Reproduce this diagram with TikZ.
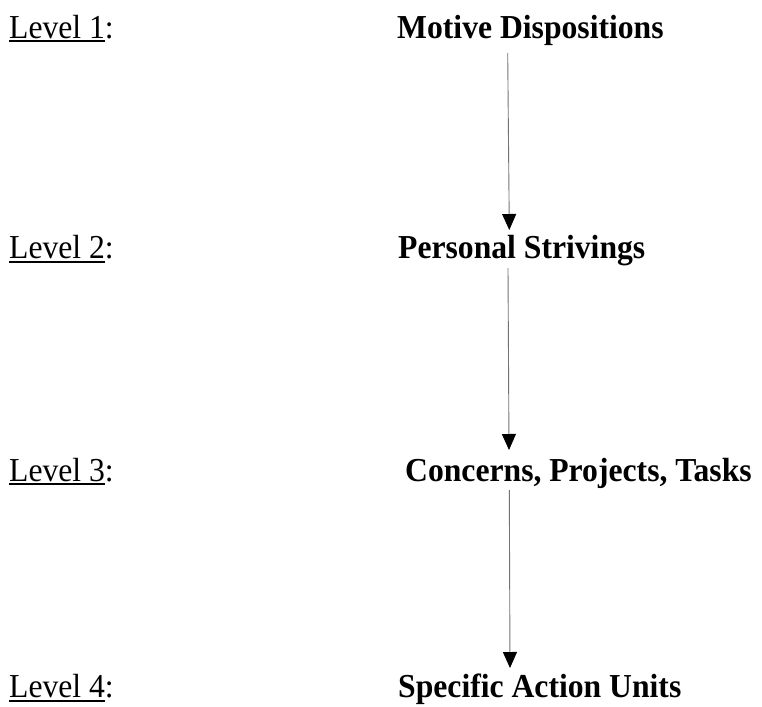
\documentclass[tikz,border=0pt]{standalone}
\usepackage{fontspec}
\setmainfont{Liberation Serif}[FakeStretch=0.945]
\usetikzlibrary{arrows.meta}
\tikzset{
  lvl/.style={anchor=base west, inner sep=0pt, font=\fontsize{33.5}{36}\selectfont},
  item/.style={anchor=base west, inner sep=0pt, font=\fontsize{33.5}{36}\selectfont\bfseries},
  link/.style={draw=black!55, line width=0.9pt, -{Triangle[width=14pt,length=16pt,black]}}
}
\newcommand{\lvlul}[1]{\setbox0\hbox{#1}\rlap{\rule[-4pt]{\wd0}{2pt}}\box0}
\begin{document}
\begin{tikzpicture}[x=1pt,y=-1pt]
\useasboundingbox (0,0) rectangle (762,706);
\node[lvl] (l1) at (9,38.5) {\lvlul{Level 1}:};
\node[lvl] (l2) at (9,258.5) {\lvlul{Level 2}:};
\node[lvl] (l3) at (9,481) {\lvlul{Level 3}:};
\node[lvl] (l4) at (9,697.5) {\lvlul{Level 4}:};
\node[item] (m1) at (397,38.5) {Motive Dispositions};
\node[item] (m2) at (398,258.5) {Personal Strivings};
\node[item] (m3) at (405,481) {Concerns, Projects, Tasks};
\node[item] (m4) at (398,697.5) {Specific Action Units};
\coordinate (a1s) at (507.7,53);
\coordinate (a1e) at (509.3,230);
\coordinate (a2s) at (508,268);
\coordinate (a2e) at (509,450);
\coordinate (a3s) at (509.3,490);
\coordinate (a3e) at (510,668);
\draw[link] (a1s) -- (a1e);
\draw[link] (a2s) -- (a2e);
\draw[link] (a3s) -- (a3e);
\end{tikzpicture}
\end{document}
